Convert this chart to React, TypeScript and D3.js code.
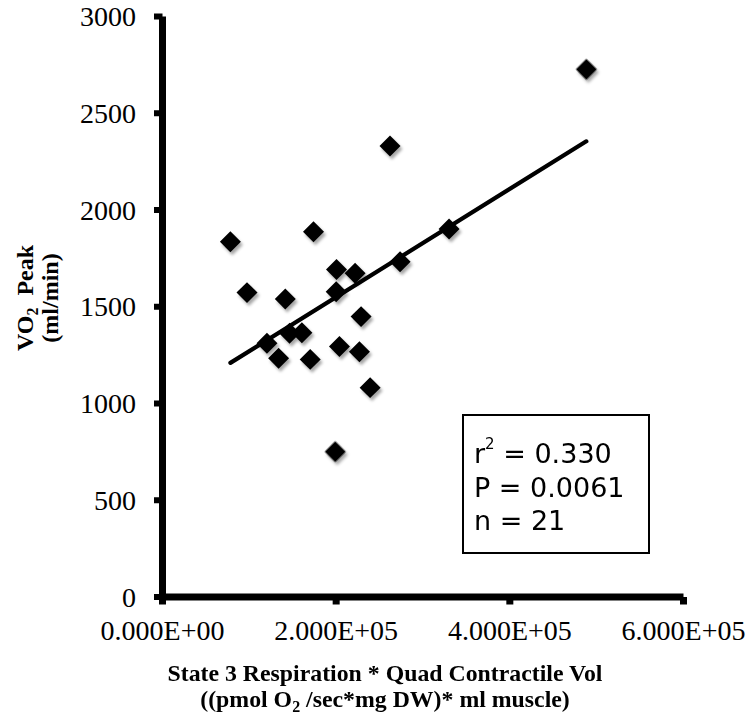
import React from "react";
import * as d3 from "d3";

// Per-subject values: state 3 respiration × quad contractile volume vs. VO2 peak
const respVol: number[] = [
  78200, 97300, 141400, 173900, 200400, 221800, 200000, 273600, 228700, 120300, 146300,
  160500, 133700, 170100, 203800, 226800, 239100, 198900, 488100, 262000, 330000,
];
const vo2Peak: number[] = [
  1836, 1573, 1540, 1888, 1693, 1673, 1578, 1733, 1449, 1311, 1363,
  1366, 1234, 1228, 1294, 1268, 1082, 751, 2727, 2331, 1902,
];

const xTicks: number[] = [0, 200000, 400000, 600000];
const yTicks: number[] = [0, 500, 1000, 1500, 2000, 2500, 3000];
const xTickLabels: string[] = ["0.000E+00", "2.000E+05", "4.000E+05", "6.000E+05"];

const statR2 = "0.330";
const statP = "0.0061";
const statN = "21";

const W = 749;
const H = 728;

const serif = "'Liberation Serif', 'Times New Roman', serif";
const sans = "'DejaVu Sans', Verdana, sans-serif";

export default function App() {
  const x = d3.scaleLinear().domain([0, 600000]).range([162.5, 683.5]);
  const y = d3.scaleLinear().domain([0, 3000]).range([597, 16.5]);

  const pts = respVol.map((v, i) => ({ x: v, y: vo2Peak[i] }));

  // least-squares trend line over the observed x range
  const mx = d3.mean(pts, (d) => d.x) as number;
  const my = d3.mean(pts, (d) => d.y) as number;
  const sxy = d3.sum(pts, (d) => (d.x - mx) * (d.y - my));
  const sxx = d3.sum(pts, (d) => (d.x - mx) * (d.x - mx));
  const slope = sxy / sxx;
  const intercept = my - slope * mx;
  const [x0, x1] = d3.extent(respVol) as [number, number];
  const fit = d3.line<number>()
    .x((v) => x(v))
    .y((v) => y(intercept + slope * v));

  const diamond = d3.symbol().type(d3.symbolSquare).size(220)() as string;

  const axisX = x(0);
  const axisY = y(0);

  return (
    <svg
      width={W}
      height={H}
      viewBox={`0 0 ${W} ${H}`}
      style={{ position: "absolute", left: 0, top: 0, background: "#fff" }}
    >
      <defs>
        <filter id="shadow" x="-50%" y="-50%" width="200%" height="200%">
          <feDropShadow dx="2" dy="3" stdDeviation="1.6" floodColor="#000" floodOpacity="0.35" />
        </filter>
      </defs>
      <rect width={W} height={H} fill="#fff" />

      {/* axes */}
      <line x1={axisX} x2={axisX} y1={y(3000)} y2={axisY + 3.5} stroke="#000" strokeWidth={7} />
      <line x1={axisX - 3.5} x2={x(600000)} y1={axisY} y2={axisY} stroke="#000" strokeWidth={7} />
      {yTicks.map((t) => (
        <g key={`yt${t}`}>
          <rect x={axisX - 8.5} y={y(t) - 3} width={8.5} height={6} fill="#000" />
          <text
            x={136}
            y={y(t) + 9.5}
            textAnchor="end"
            fontFamily={serif}
            fontSize={28}
            fill="#000"
          >
            {t}
          </text>
        </g>
      ))}
      {xTicks.map((t, i) => (
        <g key={`xt${t}`}>
          <rect x={x(t) - 3.5} y={axisY} width={7} height={7.5} fill="#000" />
          <text
            x={x(t)}
            y={640}
            textAnchor="middle"
            fontFamily={serif}
            fontSize={28}
            fill="#000"
          >
            {xTickLabels[i]}
          </text>
        </g>
      ))}

      {/* trend line */}
      <path
        d={fit([x0, x1]) as string}
        fill="none"
        stroke="#000"
        strokeWidth={4.2}
        strokeLinecap="round"
      />

      {/* data points */}
      <g filter="url(#shadow)">
        {pts.map((d, i) => (
          <path
            key={i}
            d={diamond}
            transform={`translate(${x(d.x)},${y(d.y)}) rotate(45)`}
            fill="#000"
          />
        ))}
      </g>

      {/* statistics box */}
      <rect x={463} y={415} width={186} height={138} fill="#fff" stroke="#000" strokeWidth={2} />
      <text fontFamily={sans} fontSize={27} fill="#000">
        <tspan x={474} y={463}>
          r
          <tspan fontSize={15} dy={-14}>2</tspan>
          <tspan dy={14}>{`\u00a0= ${statR2}`}</tspan>
        </tspan>
        <tspan x={474} y={497}>{`P = ${statP}`}</tspan>
        <tspan x={474} y={530}>{`n = ${statN}`}</tspan>
      </text>

      {/* axis titles */}
      <text
        x={385}
        y={681}
        textAnchor="middle"
        fontFamily={serif}
        fontWeight="bold"
        fontSize={23.8}
        fill="#000"
      >
        State 3 Respiration * Quad Contractile Vol
      </text>
      <text
        x={385}
        y={707}
        textAnchor="middle"
        fontFamily={serif}
        fontWeight="bold"
        fontSize={23.8}
        fill="#000"
      >
        ((pmol O
        <tspan fontSize={16} dy={5}>2</tspan>
        <tspan dy={-5}>{"\u00a0/sec*mg DW)* ml muscle)"}</tspan>
      </text>
      <text
        transform="translate(33,298) rotate(-90)"
        textAnchor="middle"
        fontFamily={serif}
        fontWeight="bold"
        fontSize={24}
        fill="#000"
      >
        VO
        <tspan fontSize={16} dy={5}>2</tspan>
        <tspan dy={-5}>{"\u00a0\u00a0Peak"}</tspan>
      </text>
      <text
        transform="translate(58,298) rotate(-90)"
        textAnchor="middle"
        fontFamily={serif}
        fontWeight="bold"
        fontSize={24}
        fill="#000"
      >
        (ml/min)
      </text>
    </svg>
  );
}
